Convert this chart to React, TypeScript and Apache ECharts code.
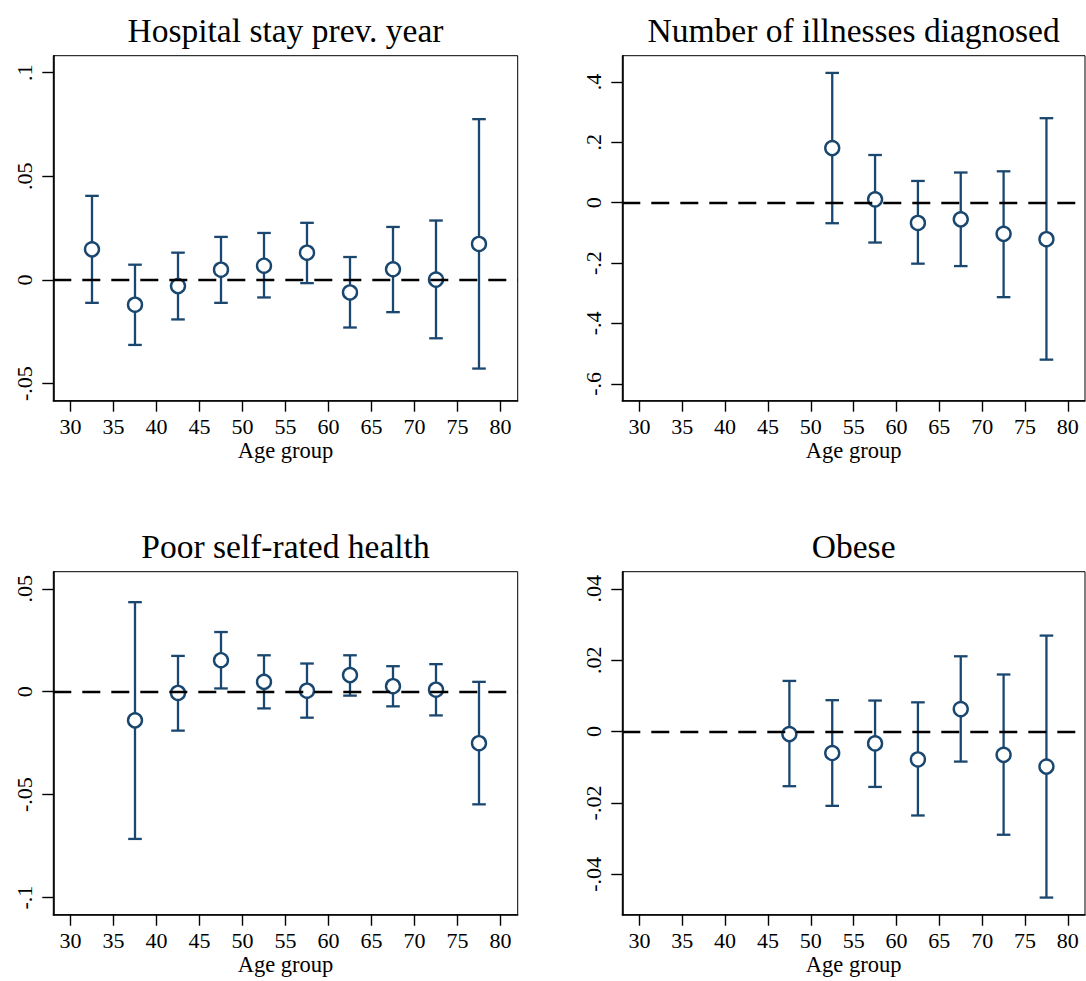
import React, { useEffect, useRef } from "react";
import * as echarts from "echarts";

// ---- Data ----
const xTicks = [30, 35, 40, 45, 50, 55, 60, 65, 70, 75, 80];

const titles = [
  "Hospital stay prev. year",
  "Number of illnesses diagnosed",
  "Poor self-rated health",
  "Obese",
];

// Panel 1: Hospital stay prev. year
const ages1 = [32.5, 37.5, 42.5, 47.5, 52.5, 57.5, 62.5, 67.5, 72.5, 77.5];
const est1 = [0.0148, -0.0119, -0.0029, 0.005, 0.0069, 0.0132, -0.006, 0.0052, 0.0002, 0.0174];
const hi1 = [0.0406, 0.0074, 0.0132, 0.0208, 0.0227, 0.0276, 0.0111, 0.0256, 0.0287, 0.0776];
const lo1 = [-0.011, -0.0313, -0.019, -0.011, -0.0084, -0.0015, -0.0229, -0.0155, -0.0281, -0.0427];
const yTicks1 = [-0.05, 0, 0.05, 0.1];

// Panel 2: Number of illnesses diagnosed
const ages2 = [52.5, 57.5, 62.5, 67.5, 72.5, 77.5];
const est2 = [0.181, 0.011, -0.067, -0.055, -0.103, -0.121];
const hi2 = [0.43, 0.158, 0.072, 0.1, 0.104, 0.28];
const lo2 = [-0.068, -0.132, -0.202, -0.21, -0.313, -0.52];
const yTicks2 = [-0.6, -0.4, -0.2, 0, 0.2, 0.4];

// Panel 3: Poor self-rated health
const ages3 = [37.5, 42.5, 47.5, 52.5, 57.5, 62.5, 67.5, 72.5, 77.5];
const est3 = [-0.0139, -0.0006, 0.0153, 0.0048, 0.0005, 0.0081, 0.0027, 0.001, -0.025];
const hi3 = [0.0435, 0.0174, 0.029, 0.0177, 0.0137, 0.0177, 0.0124, 0.0134, 0.0048];
const lo3 = [-0.0715, -0.0189, 0.0016, -0.0081, -0.0126, -0.0019, -0.0071, -0.0115, -0.0547];
const yTicks3 = [-0.1, -0.05, 0, 0.05];

// Panel 4: Obese
const ages4 = [47.5, 52.5, 57.5, 62.5, 67.5, 72.5, 77.5];
const est4 = [-0.0007, -0.006, -0.0033, -0.0078, 0.0063, -0.0065, -0.0098];
const hi4 = [0.0142, 0.0088, 0.0087, 0.0082, 0.0211, 0.016, 0.0269];
const lo4 = [-0.0153, -0.0208, -0.0155, -0.0235, -0.0084, -0.0289, -0.0465];
const yTicks4 = [-0.04, -0.02, 0, 0.02, 0.04];

const panels = [
  { ages: ages1, est: est1, hi: hi1, lo: lo1, yTicks: yTicks1, yMin: -0.0582, yMax: 0.1082 },
  { ages: ages2, est: est2, hi: hi2, lo: lo2, yTicks: yTicks2, yMin: -0.656, yMax: 0.487 },
  { ages: ages3, est: est3, hi: hi3, lo: lo3, yTicks: yTicks3, yMin: -0.1083, yMax: 0.0583 },
  { ages: ages4, est: est4, hi: hi4, lo: lo4, yTicks: yTicks4, yMin: -0.0513, yMax: 0.0448 },
];

const FONT = "'Liberation Serif', 'Times New Roman', serif";
const NAVY = "#1a476f";

const grids = [
  { left: 53.3, top: 55.7, width: 464.4, height: 345 },
  { left: 622.3, top: 55.7, width: 462.7, height: 345 },
  { left: 53.3, top: 571.7, width: 464.4, height: 343 },
  { left: 622.3, top: 571.7, width: 462.7, height: 343 },
];

const fmt = (v: number) => {
  const r = Math.round(v * 10000) / 10000;
  return String(r).replace(/^(-?)0\./, "$1.");
};

export default function App() {
  const ref = useRef<HTMLDivElement>(null);
  useEffect(() => {
    if (!ref.current) return;
    const chart = echarts.init(ref.current, undefined, { renderer: "svg" });

    const series: any[] = [];
    panels.forEach((p, i) => {
      series.push({
        type: "custom",
        xAxisIndex: i,
        yAxisIndex: i,
        z: 2,
        data: p.ages.map((a, k) => [a, p.lo[k], p.hi[k]]),
        encode: { x: 0, y: [1, 2] },
        renderItem: (params: any, api: any) => {
          const x = api.value(0);
          const top = api.coord([x, api.value(2)]);
          const bot = api.coord([x, api.value(1)]);
          const w = 6.8;
          const style = { stroke: NAVY, lineWidth: 2.3 };
          return {
            type: "group",
            children: [
              { type: "line", shape: { x1: top[0], y1: top[1], x2: bot[0], y2: bot[1] }, style },
              { type: "line", shape: { x1: top[0] - w, y1: top[1], x2: top[0] + w, y2: top[1] }, style },
              { type: "line", shape: { x1: bot[0] - w, y1: bot[1], x2: bot[0] + w, y2: bot[1] }, style },
            ],
          };
        },
        markLine: {
          silent: true,
          symbol: ["none", "none"],
          label: { show: false },
          lineStyle: { color: "#000", type: [18, 11], width: 2.4 },
          data: [{ yAxis: 0 }],
        },
      });
      series.push({
        type: "scatter",
        xAxisIndex: i,
        yAxisIndex: i,
        z: 3,
        symbol: "circle",
        symbolSize: 14,
        itemStyle: { color: "#fff", borderColor: NAVY, borderWidth: 2.4, opacity: 1 },
        data: p.ages.map((a, k) => [a, p.est[k]]),
      });
    });

    const option: any = {
      animation: false,
      backgroundColor: "#fff",
      grid: grids.map((g) => ({
        ...g,
        show: true,
        borderColor: "#000",
        borderWidth: 1,
        backgroundColor: "transparent",
        containLabel: false,
      })),
      xAxis: panels.map((p, i) => ({
        gridIndex: i,
        type: "value",
        min: 28,
        max: 82,
        name: "Age group",
        nameLocation: "middle",
        nameGap: 38,
        nameTextStyle: { fontSize: 22.5, fontFamily: FONT, color: "#000" },
        axisLine: { show: true, onZero: false, lineStyle: { color: "#000", width: 1.6 } },
        axisTick: { show: true, length: 11, customValues: xTicks, lineStyle: { color: "#000", width: 1.4 } },
        axisLabel: { customValues: xTicks, fontSize: 22, fontFamily: FONT, color: "#000", margin: 15 },
        splitLine: { show: false },
      })),
      yAxis: panels.map((p, i) => ({
        gridIndex: i,
        type: "value",
        min: p.yMin,
        max: p.yMax,
        axisLine: { show: true, onZero: false, lineStyle: { color: "#000", width: 1.6 } },
        axisTick: { show: true, length: 11, customValues: p.yTicks, lineStyle: { color: "#000", width: 1.4 } },
        axisLabel: {
          customValues: p.yTicks,
          rotate: 90,
          fontSize: 22,
          fontFamily: FONT,
          color: "#000",
          margin: 18,
          formatter: (v: number) => fmt(v),
        },
        splitLine: { show: false },
      })),
      graphic: titles.map((t, i) => ({
        type: "text",
        x: grids[i].left + grids[i].width / 2,
        y: i < 2 ? 30 : 546,
        style: {
          text: t,
          fontSize: 33.5,
          fontFamily: FONT,
          fill: "#000",
          textAlign: "center",
          textVerticalAlign: "middle",
        },
      })),
      series,
    };
    chart.setOption(option);
    return () => chart.dispose();
  }, []);

  return (
    <div
      ref={ref}
      style={{ position: "fixed", left: 0, top: 0, width: 1086, height: 981, background: "#fff" }}
    />
  );
}
